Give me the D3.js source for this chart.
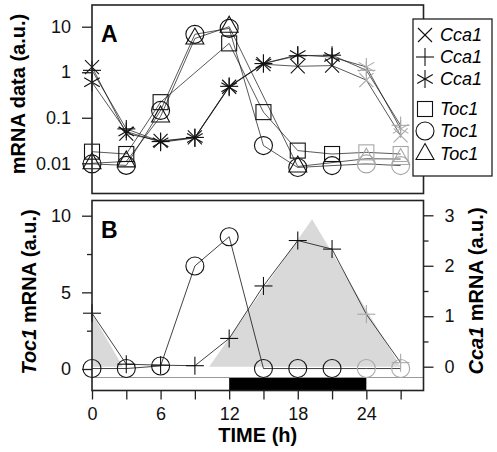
<!DOCTYPE html>
<html><head><meta charset="utf-8">
<script src="https://cdn.jsdelivr.net/npm/d3@7"></script>
<style>
body{margin:0;background:#fff}
svg{display:block;font-family:"Liberation Sans",Arial,Helvetica,sans-serif}
</style>
</head><body>
<svg id="c" width="497" height="452"></svg>
<script>
// ---------- data ----------
const times = [0, 3, 6, 9, 12, 15, 18, 21, 24, 27];
const repeatFrom = 24; // points from this time on are repeats (drawn grey)

// Panel A (log scale, mRNA data a.u.)
const cca1X        = [1.3, 0.045, 0.031, 0.037, 0.48, 1.5, 1.35, 1.4, 0.67, 0.041];
const cca1Plus     = [1.1, 0.057, 0.030, 0.037, 0.49, 1.55, 2.3, 2.37, 1.1, 0.068];
const cca1Star     = [0.6, 0.050, 0.029, 0.036, 0.47, 1.56, 2.4, 2.15, 1.31, 0.057];
const toc1Square   = [0.018, 0.016, 0.22, null, 4.3, 0.133, 0.019, 0.016, 0.0174, 0.016];
const toc1Circle   = [0.0097, 0.009, 0.145, 6.8, 9.2, 0.0245, 0.0081, 0.0089, 0.0097, 0.0089];
const toc1Triangle = [0.010, 0.011, 0.107, 5.5, 10.0, null, 0.0085, null, 0.0126, 0.0124];
const seriesNamesA = ["Cca1", "Cca1", "Cca1", "Toc1", "Toc1", "Toc1"];
const seriesShapesA = ["x", "plus", "star", "square", "circle", "triangle"];
const yTicksA = [0.01, 0.1, 1, 10];

// Panel B (linear)
const toc1B = [0.03, 0.03, 0.2, 6.72, 8.63, 0.03, 0.03, 0.03, 0.03, 0.03];
const cca1B = [1.06, 0.05, 0.03, 0.02, 0.56, 1.6, 2.5, 2.33, 1.04, 0.08];
const shadeT = [0, 2.7, 10.25, 19.25, 27];
const shadeV = [1.05, 0, 0, 2.92, 0];
const darkStart = 12, darkEnd = 24;
const yTicksBLeft = [0, 5, 10], yMinorBLeft = [2.5, 7.5];
const yTicksBRight = [0, 1, 2, 3], yMinorBRight = [0.5, 1.5, 2.5];
const xTicks = [0, 3, 6, 9, 12, 15, 18, 21, 24, 27];
const xLabels = [0, 6, 12, 18, 24];

// ---------- layout ----------
const svg = d3.select("#c");
const L = 92, R = 423.5;
const aTop = 5, aBot = 193.5, bTop = 200.5, bBot = 390.5;
const x = d3.scaleLinear().domain([0, 29]).range([L, R]);
const yA = d3.scaleLog().domain([0.01, 10]).range([163.3, 26.7]);
const yBL = d3.scaleLinear().domain([0, 10]).range([369, 215.7]);
const yBR = d3.scaleLinear().domain([0, 3]).range([366.7, 215.3]);
const ink = "#111", grey = "#a8a8a8";

function marker(g, shape, cx, cy, color) {
  const s = g.append("g").attr("transform", `translate(${cx},${cy})`)
    .attr("fill", "none").attr("stroke", color).attr("stroke-width", 1.1);
  const ln = (x1, y1, x2, y2) => s.append("line").attr("x1", x1).attr("y1", y1).attr("x2", x2).attr("y2", y2);
  if (shape === "x") { ln(-7, -7, 7, 7); ln(-7, 7, 7, -7); }
  else if (shape === "plus") { ln(-9, 0, 9, 0); ln(0, -9, 0, 9); }
  else if (shape === "star") {
    ln(0, -9, 0, 9);
    const a = Math.PI / 6, r = 9;
    ln(-r * Math.cos(a), -r * Math.sin(a), r * Math.cos(a), r * Math.sin(a));
    ln(-r * Math.cos(a), r * Math.sin(a), r * Math.cos(a), -r * Math.sin(a));
  }
  else if (shape === "square") s.append("rect").attr("x", -7.5).attr("y", -7.5).attr("width", 15).attr("height", 15);
  else if (shape === "circle") s.append("circle").attr("r", 9);
  else if (shape === "triangle") s.append("path").attr("d", "M0,-10.5L9,5.5L-9,5.5Z");
}

// ---------- Panel A ----------
const gA = svg.append("g");
const seriesA = [cca1X, cca1Plus, cca1Star, toc1Square, toc1Circle, toc1Triangle];
const lineA = d3.line().x(d => x(d.t)).y(d => yA(d.v));
seriesA.forEach(vals => {
  const pts = times.map((t, i) => ({t, v: vals[i]})).filter(d => d.v != null);
  gA.append("path").datum(pts).attr("d", lineA).attr("fill", "none")
    .attr("stroke", ink).attr("stroke-width", 0.7);
});
seriesA.forEach((vals, k) => {
  times.forEach((t, i) => {
    if (vals[i] == null) return;
    marker(gA, seriesShapesA[k], x(t), yA(vals[i]), t >= repeatFrom ? grey : ink);
  });
});
gA.append("rect").attr("x", L).attr("y", aTop).attr("width", R - L).attr("height", aBot - aTop)
  .attr("fill", "none").attr("stroke", "#222").attr("stroke-width", 1.6);
const axA = gA.append("g").attr("transform", `translate(${L},0)`)
  .call(d3.axisLeft(yA).tickValues(yTicksA).tickSize(10).tickPadding(11).tickFormat(d3.format("~g")));
axA.select(".domain").remove();
axA.selectAll("line").attr("stroke", "#222").attr("stroke-width", 1.3);
axA.selectAll("text").attr("font-size", 18).attr("fill", "#111");
gA.append("text").attr("x", 101).attr("y", 42).attr("font-size", 23).attr("font-weight", "bold").text("A");
gA.append("text").attr("transform", "translate(25,94) rotate(-90)").attr("text-anchor", "middle")
  .attr("font-size", 20).attr("font-weight", "bold").text("mRNA data (a.u.)");

// Legend
const leg = svg.append("g");
leg.append("rect").attr("x", 413).attr("y", 19).attr("width", 79).attr("height", 157)
  .attr("fill", "#fff").attr("stroke", "#222").attr("stroke-width", 1.3);
const legY = [35, 57, 79, 109, 131, 154];
seriesShapesA.forEach((sh, k) => {
  marker(leg, sh, 425, legY[k], ink);
  leg.append("text").attr("x", 440).attr("y", legY[k]).attr("dy", "0.35em")
    .attr("font-size", 18).attr("font-style", "italic").text(seriesNamesA[k]);
});

// ---------- Panel B ----------
const gB = svg.append("g");
const area = d3.area().x(d => x(d.t)).y0(yBR(0)).y1(d => yBR(d.v));
gB.append("path").datum(shadeT.map((t, i) => ({t, v: shadeV[i]})))
  .attr("d", area).attr("fill", "#d9d9d9");
// light/dark bar
const barTop = 377.5;
gB.append("rect").attr("x", L).attr("y", barTop).attr("width", R - L).attr("height", bBot - barTop).attr("fill", "#fff");
gB.append("rect").attr("x", x(darkStart)).attr("y", barTop).attr("width", x(darkEnd) - x(darkStart))
  .attr("height", bBot - barTop).attr("fill", "#000");
gB.append("line").attr("x1", L).attr("x2", R).attr("y1", barTop).attr("y2", barTop)
  .attr("stroke", "#999").attr("stroke-width", 1);

const lineBL = d3.line().x(d => x(d.t)).y(d => yBL(d.v));
const lineBR = d3.line().x(d => x(d.t)).y(d => yBR(d.v));
gB.append("path").datum(times.map((t, i) => ({t, v: toc1B[i]}))).attr("d", lineBL)
  .attr("fill", "none").attr("stroke", ink).attr("stroke-width", 0.8);
gB.append("path").datum(times.map((t, i) => ({t, v: cca1B[i]}))).attr("d", lineBR)
  .attr("fill", "none").attr("stroke", ink).attr("stroke-width", 0.8);
times.forEach((t, i) => {
  marker(gB, "circle", x(t), yBL(toc1B[i]), t >= repeatFrom ? grey : ink);
  marker(gB, "plus", x(t), yBR(cca1B[i]), t >= repeatFrom ? grey : ink);
});

gB.append("rect").attr("x", L).attr("y", bTop).attr("width", R - L).attr("height", bBot - bTop)
  .attr("fill", "none").attr("stroke", "#222").attr("stroke-width", 1.6);

// left axis B
const axBL = gB.append("g").attr("transform", `translate(${L},0)`)
  .call(d3.axisLeft(yBL).tickValues(yTicksBLeft).tickSize(10).tickPadding(11).tickFormat(d3.format("d")));
axBL.select(".domain").remove();
gB.append("g").attr("transform", `translate(${L},0)`)
  .call(d3.axisLeft(yBL).tickValues(yMinorBLeft).tickSize(5).tickFormat(""))
  .select(".domain").remove();
// right axis B
const axBR = gB.append("g").attr("transform", `translate(${R},0)`)
  .call(d3.axisRight(yBR).tickValues(yTicksBRight).tickSize(10).tickPadding(11).tickFormat(d3.format("d")));
axBR.select(".domain").remove();
gB.append("g").attr("transform", `translate(${R},0)`)
  .call(d3.axisRight(yBR).tickValues(yMinorBRight).tickSize(5).tickFormat(""))
  .select(".domain").remove();
// bottom axis
const axX = gB.append("g").attr("transform", `translate(0,${bBot})`)
  .call(d3.axisBottom(x).tickValues(xTicks).tickSize(9).tickPadding(8)
    .tickFormat(d => xLabels.includes(d) ? d : ""));
axX.select(".domain").remove();
gB.selectAll(".tick line").attr("stroke", "#222").attr("stroke-width", 1.3);
gB.selectAll(".tick text").attr("font-size", 18).attr("fill", "#111");

gB.append("text").attr("x", 101).attr("y", 238).attr("font-size", 23).attr("font-weight", "bold").text("B");
const tl = gB.append("text").attr("transform", "translate(36,292) rotate(-90)").attr("text-anchor", "middle")
  .attr("font-size", 20).attr("font-weight", "bold");
tl.append("tspan").attr("font-style", "italic").text("Toc1");
tl.append("tspan").text(" mRNA (a.u.)");
const tr = gB.append("text").attr("transform", "translate(483,291) rotate(-90)").attr("text-anchor", "middle")
  .attr("font-size", 20).attr("font-weight", "bold");
tr.append("tspan").attr("font-style", "italic").text("Cca1");
tr.append("tspan").text(" mRNA (a.u.)");
svg.append("text").attr("x", (L + R) / 2).attr("y", 442).attr("text-anchor", "middle")
  .attr("font-size", 20).attr("font-weight", "bold").text("TIME (h)");
</script>
</body></html>
